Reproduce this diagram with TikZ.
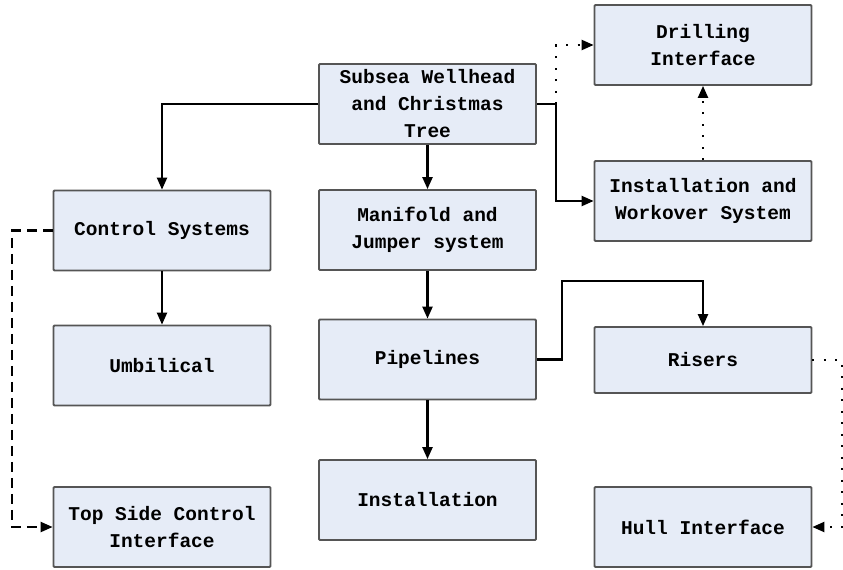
\documentclass[tikz,border=0pt]{standalone}
\usepackage{fontspec}
\setmainfont{Liberation Mono}
\usetikzlibrary{arrows.meta}
\definecolor{box-fill}{HTML}{E6ECF7}
\definecolor{box-edge}{HTML}{555555}

\begin{document}
\begin{tikzpicture}[
    x=1pt, y=-1pt,
    font=\bfseries\fontsize{19.5}{27}\selectfont,
    >={Triangle[length=12pt, width=10pt]},
    block/.style={draw=box-edge, fill=box-fill, line width=1.8pt, rounded corners=1pt, align=center, minimum width=217pt, minimum height=80pt, inner sep=2pt},
    link/.style={->, line width=2.2pt, draw=black},
    dotlink/.style={->, line width=2.2pt, draw=black, dash pattern=on 2pt off 9.5pt},
    dashlink/.style={->, line width=2.2pt, draw=black, dash pattern=on 10pt off 6pt}
]
\useasboundingbox (0,0) rectangle (843,570);

% boxes
\node[block] (tree) at (427.5,104) {Subsea Wellhead\\and Christmas\\Tree};
\node[block] (drill) at (703,45) {Drilling\\Interface};
\node[block] (workover) at (703,201) {Installation and\\Workover System};
\node[block] (control) at (162,230.5) {Control Systems};
\node[block] (manifold) at (427.5,230) {Manifold and\\Jumper system};
\node[block] (umbilical) at (162,365.5) {Umbilical};
\node[block] (pipe) at (427.5,359.5) {Pipelines};
\node[block, minimum height=66pt] (risers) at (703,360) {Risers};
\node[block] (install) at (427.5,500) {Installation};
\node[block] (topside) at (162,527) {Top Side Control\\Interface};
\node[block] (hull) at (703,527) {Hull Interface};

\coordinate (split) at (556,104);
\coordinate (hullturn) at (842,360);

% solid connectors
\draw[link] (tree.west) -| (control.north);
\draw[link] (tree.south) -- (manifold.north);
\draw[link] (manifold.south) -- (pipe.north);
\draw[link] (pipe.south) -- (install.north);
\draw[link] (control.south) -- (umbilical.north);
\draw[line width=2.2pt] (tree.east) -- (split);
\draw[link] (split) |- (workover.west);
\draw[link] (pipe.east) -- (562,359.5) |- (703,281) -- (risers.north);

% dotted and dashed connectors
\draw[dotlink] (split) |- (drill.west);
\draw[dotlink] (workover.north) -- (drill.south);
\draw[dotlink] (risers.east) -- (hullturn) |- (hull.east);
\draw[dashlink] (control.west) -- (12,230.5) |- (topside.west);
\end{tikzpicture}
\end{document}
